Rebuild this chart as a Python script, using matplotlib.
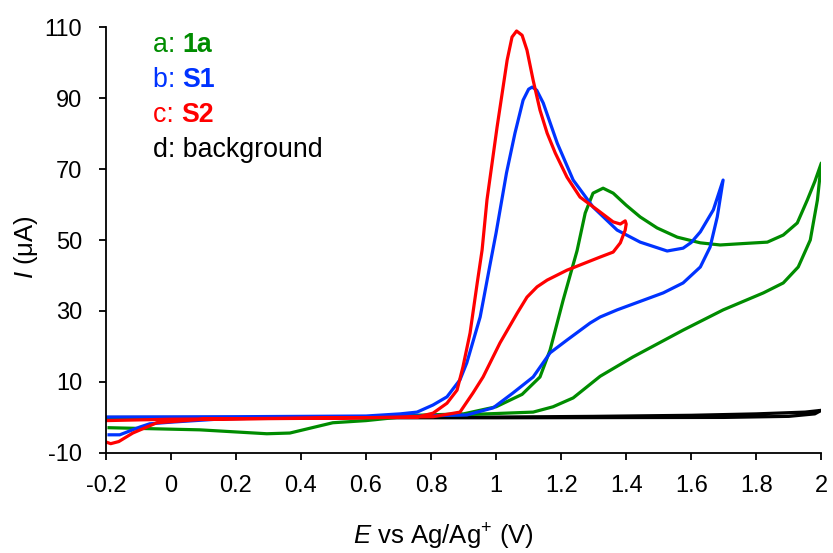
import matplotlib
matplotlib.use("Agg")
import matplotlib.pyplot as plt

plt.rcParams['font.family'] = ['Liberation Sans', 'DejaVu Sans']
plt.rcParams['axes.unicode_minus'] = False
plt.rcParams['mathtext.fontset'] = 'custom'
plt.rcParams['mathtext.rm'] = 'Liberation Sans'
plt.rcParams['mathtext.it'] = 'Liberation Sans:italic'

# ---- data ----
# 1a (green)
g_x = [-0.2, 0.2, 0.6, 0.9, 1.0, 1.08, 1.135, 1.166, 1.206, 1.249, 1.274, 1.298, 1.329, 1.36, 1.40,
       1.443, 1.495, 1.557, 1.628, 1.689, 1.76, 1.834, 1.883, 1.926, 1.957, 1.98, 2.0,
       1.988, 1.966, 1.929, 1.883, 1.822, 1.698, 1.575, 1.42, 1.32, 1.237, 1.175, 1.114, 1.0, 0.91,
       0.705, 0.6, 0.498, 0.366, 0.295, 0.089, -0.19]
g_y = [-0.3, -0.1, 0.2, 1.0, 3.0, 6.5, 11.4, 19, 33, 47, 57.6, 63.2, 64.6, 63.2, 59.8,
       56.5, 53.4, 50.8, 49.2, 48.6, 49.0, 49.4, 51.4, 54.8, 61.3, 66.5, 71.7,
       61.3, 50, 42.4, 37.9, 35.1, 30.3, 24.6, 17, 11.6, 5.5, 3.0, 1.5, 1.1, 0.8,
       0.1, -0.9, -1.5, -4.4, -4.6, -3.5, -2.9]

# S1 (blue)
b_x = [-0.2, 0.2, 0.6, 0.705, 0.757, 0.806, 0.849, 0.889, 0.910, 0.951, 0.961, 0.98, 1.0, 1.032,
       1.058, 1.083, 1.100, 1.111, 1.125, 1.145, 1.188, 1.237, 1.298, 1.372, 1.443, 1.526, 1.575,
       1.60, 1.628, 1.668, 1.698,
       1.680, 1.658, 1.628, 1.575, 1.514, 1.372, 1.32, 1.289, 1.218, 1.166, 1.114, 1.052, 0.991,
       0.910, 0.7, 0.4, 0.16, 0.006, -0.065, -0.095, -0.157, -0.19]
b_y = [0.1, 0.2, 0.4, 1.0, 1.5, 3.5, 5.8, 10.6, 15.4, 28.3, 33.1, 42.4, 52, 68.9,
       80.1, 89.4, 92.5, 93.1, 92.2, 88.6, 77.3, 66.9, 59.3, 52.8, 49.4, 46.9, 47.7,
       49.3, 52.3, 58.5, 66.9,
       56.5, 48, 42.4, 37.9, 35.1, 30.3, 28.3, 26.6, 21.8, 18.2, 11.4, 6.9, 2.7,
       0.7, 0.3, 0.0, -0.4, -1.3, -1.8, -2.7, -4.9, -4.9]

# S2 (red)
r_x = [-0.2, 0.0, 0.4, 0.7, 0.757, 0.806, 0.849, 0.88, 0.898, 0.92, 0.942, 0.957, 0.972, 1.003,
       1.034, 1.049, 1.063, 1.080, 1.095, 1.114, 1.135, 1.157, 1.182, 1.218, 1.258, 1.311, 1.36,
       1.382, 1.397, 1.40,
       1.397, 1.382, 1.36, 1.32, 1.218, 1.157, 1.126, 1.095, 1.065, 1.012, 0.96, 0.929, 0.889,
       0.806, 0.5, 0.1, -0.043, -0.117, -0.16, -0.185, -0.2]
r_y = [-0.9, -0.5, -0.2, 0.0, 0.1, 1.2, 4, 7.7, 14.2, 23.8, 37.9, 47.2, 61.3, 81.8,
       100.7, 107.2, 108.9, 107.7, 103.5, 95, 86.6, 80.1, 74.5, 67.7, 62.1, 58.5, 55.1,
       54.5, 55.4, 54.5,
       52.8, 49.2, 46.6, 45.2, 41.5, 38.7, 36.8, 33.9, 29.4, 21, 11.4, 6.9, 1.5,
       0.2, -0.2, -0.5, -1.5, -4.4, -6.8, -7.4, -6.9]

# background (black)
k_x = [-0.2, 0.5, 1.0, 1.3, 1.6, 1.8, 1.95, 2.0, 1.98, 1.9, 1.7, 1.0, -0.2]
k_y = [0.0, 0.0, 0.1, 0.3, 0.6, 1.0, 1.5, 2.0, 1.0, 0.3, 0.0, -0.1, -0.1]

x_ticks = [-0.2, 0, 0.2, 0.4, 0.6, 0.8, 1.0, 1.2, 1.4, 1.6, 1.8, 2.0]
x_tick_labels = ["-0.2", "0", "0.2", "0.4", "0.6", "0.8", "1", "1.2", "1.4", "1.6", "1.8", "2"]
y_ticks = [-10, 10, 30, 50, 70, 90, 110]
y_tick_labels = ["-10", "10", "30", "50", "70", "90", "110"]

legend_prefix = ["a: ", "b: ", "c: ", "d: background"]
legend_names = ["1a", "S1", "S2", ""]

GREEN = '#008C00'
BLUE = '#0033FF'
RED = '#FF0000'
BLACK = '#000000'
colors = [GREEN, BLUE, RED, BLACK]

fig = plt.figure(figsize=(8.33, 5.53), dpi=100)
ax = fig.add_axes([0.127, 0.181, 0.859, 0.770])

lw = 2.3
ax.plot(k_x, k_y, color=BLACK, lw=lw, solid_joinstyle='round')
ax.plot(g_x, g_y, color=GREEN, lw=lw, solid_joinstyle='round')
ax.plot(b_x, b_y, color=BLUE, lw=lw, solid_joinstyle='round')
ax.plot(r_x, r_y, color=RED, lw=lw, solid_joinstyle='round')

ax.set_xlim(-0.2, 2.0)
ax.set_ylim(-10, 110)
ax.set_xticks(x_ticks)
ax.set_xticklabels(x_tick_labels)
ax.set_yticks(y_ticks)
ax.set_yticklabels(y_tick_labels)
ax.tick_params(axis='both', direction='out', length=5, width=1.3, labelsize=17)
ax.tick_params(axis='y', pad=12)
ax.tick_params(axis='x', pad=11)
for s in ['top', 'right']:
    ax.spines[s].set_visible(False)
for s in ['left', 'bottom']:
    ax.spines[s].set_linewidth(1.3)

ax.set_xlabel(r"$\mathit{E}$ vs Ag/Ag$^{+}$ (V)", fontsize=18.5, labelpad=18)
ax.set_ylabel(r"$\mathit{I}$ (μA)", fontsize=18.5, labelpad=3)
ax.xaxis.label.set_x(0.472)
ax.yaxis.label.set_y(0.484)

# legend-like labels
ys = [105.0, 95.1, 85.2, 75.4]
for pre, name, c, yy in zip(legend_prefix, legend_names, colors, ys):
    t = ax.text(-0.055, yy, pre, color=c, fontsize=19.3, va='center', ha='left')
    if name:
        ax.annotate(name, xy=(1, 0), xycoords=t, va='bottom', ha='left',
                    color=c, fontsize=19.3, fontweight='bold')

fig.savefig("out.png", dpi=100)
